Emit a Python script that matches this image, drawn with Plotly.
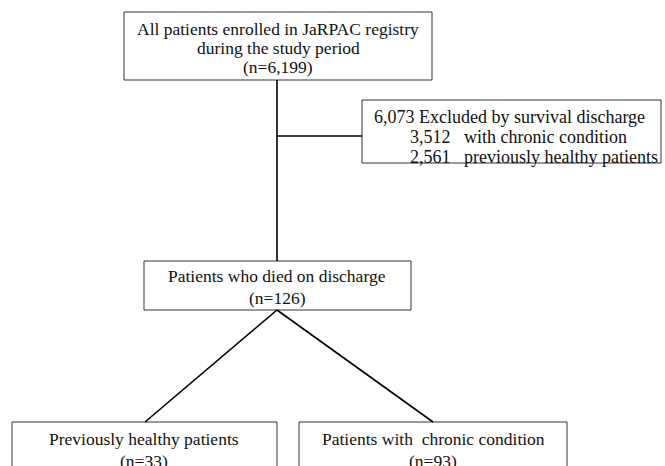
import plotly.graph_objects as go

# ---- data ----
total_enrolled = 6199
excluded_total = 6073
excluded_chronic = 3512
excluded_healthy = 2561
died = 126
died_healthy = 33
died_chronic = 93

top_lines = ["All patients enrolled in JaRPAC registry", "during the study period"]
excl_title = "Excluded by survival discharge"
excl_chronic_label = "with chronic condition"
excl_healthy_label = "previously healthy patients"
died_label = "Patients who died on discharge"
healthy_label = "Previously healthy patients"
chronic_label = "Patients with\u00a0 chronic condition"

FONT = dict(family="Liberation Serif, Times New Roman, serif", size=17.5, color="#111111")
FONT_EXCL = dict(family="Liberation Serif, Times New Roman, serif", size=18, color="#111111")

W, H = 665, 466

fig = go.Figure()

shapes = []
annotations = []

def box(x0, y0, x1, y1):
    shapes.append(dict(type="rect", xref="x", yref="y", x0=x0, y0=y0, x1=x1, y1=y1,
                       line=dict(color="#333333", width=1), fillcolor="rgba(0,0,0,0)"))

def line(x0, y0, x1, y1):
    shapes.append(dict(type="line", xref="x", yref="y", x0=x0, y0=y0, x1=x1, y1=y1,
                       line=dict(color="#000000", width=1.6)))

def text(x, y, s, anchor="center", font=FONT):
    annotations.append(dict(x=x, y=y, xref="x", yref="y", text=s, showarrow=False,
                            xanchor=anchor, yanchor="middle", font=font))

# boxes
box(124, 12, 432, 80)
box(362, 100, 661, 163)
box(144, 261, 411, 310)
box(12, 422, 277, 475)
box(299, 422, 567, 475)

# connectors
line(277, 80, 277, 261)
line(277, 136, 362, 136)
line(277, 310, 145, 422)
line(277, 310, 433, 422)

# texts
text(278, 29, top_lines[0])
text(278, 48, top_lines[1])
text(278, 67, f"(n={total_enrolled:,})")

text(372, 117, f"{excluded_total:,} {excl_title}", anchor="left", font=FONT_EXCL)
text(408, 137, f"{excluded_chronic:,}", anchor="left", font=FONT_EXCL)
text(462, 137, excl_chronic_label, anchor="left", font=FONT_EXCL)
text(408, 157, f"{excluded_healthy:,}", anchor="left", font=FONT_EXCL)
text(462, 157, excl_healthy_label, anchor="left", font=FONT_EXCL)

text(277, 276, died_label)
text(277, 298, f"(n={died})")

text(144, 439, healthy_label)
text(144, 461, f"(n={died_healthy})")

text(433, 439, chronic_label)
text(433, 461, f"(n={died_chronic})")

fig.update_layout(
    width=W, height=H,
    margin=dict(l=0, r=0, t=0, b=0),
    paper_bgcolor="white", plot_bgcolor="white",
    xaxis=dict(range=[0, W], visible=False, fixedrange=True),
    yaxis=dict(range=[H, 0], visible=False, fixedrange=True),
    shapes=shapes, annotations=annotations,
    showlegend=False,
)

fig.write_html(
    "out.html",
    config={"displayModeBar": False},
    post_script="document.body.style.margin='0';document.body.style.overflow='hidden';",
)
